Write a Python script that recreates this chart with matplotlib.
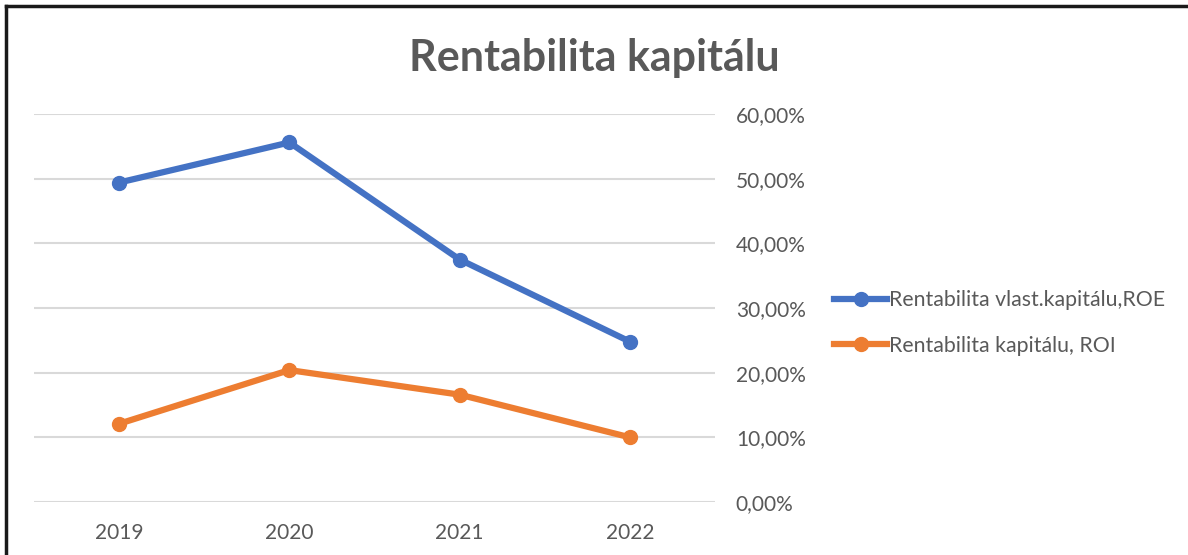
import matplotlib
matplotlib.use("Agg")
import matplotlib.pyplot as plt
from matplotlib.lines import Line2D
from matplotlib.ticker import FuncFormatter

years = ["2019", "2020", "2021", "2022"]
roe = [49.4, 55.6, 37.5, 24.8]
roi = [12.1, 20.4, 16.6, 10.0]
labels = ["Rentabilita vlast.kapitálu,ROE", "Rentabilita kapitálu, ROI"]
colors = ["#4472C4", "#ED7D31"]

plt.rcParams["font.family"] = ["Lato", "DejaVu Sans"]
text_col = "#595959"

fig = plt.figure(figsize=(11.88, 5.55), dpi=100)
ax = fig.add_axes([34 / 1188, 1 - 502 / 555, (715 - 34) / 1188, (502 - 114) / 555])

x = range(len(years))
for vals, lab, c in zip([roe, roi], labels, colors):
	ax.plot(x, vals, color=c, lw=4.5, marker="o", ms=10, label=lab, solid_capstyle="round")

ax.set_xlim(-0.5, len(years) - 0.5)
ax.set_ylim(0, 60)
ax.set_yticks(range(0, 61, 10))
ax.yaxis.set_major_formatter(FuncFormatter(lambda v, p: f"{v:.2f}".replace(".", ",") + "%"))
ax.yaxis.tick_right()
ax.set_xticks(list(x))
ax.set_xticklabels(years)
ax.grid(axis="y", color="#D9D9D9", lw=1.5)
ax.set_axisbelow(True)
for s in ax.spines.values():
	s.set_visible(False)
ax.tick_params(axis="both", length=0, labelsize=15, labelcolor=text_col)
ax.tick_params(axis="y", pad=15)
ax.tick_params(axis="x", pad=15)

fig.text(0.5, 1 - 58 / 555, "Rentabilita kapitálu", ha="center", va="center",
		fontsize=31, fontweight="bold", color=text_col)

handles = [Line2D([0], [0], color=c, lw=4.5, marker="o", ms=10) for c in colors]
leg = fig.legend(handles, labels, loc="center left", bbox_to_anchor=(815 / 1188, 1 - 323 / 555),
		frameon=False, fontsize=15.3, handlelength=2.5, handletextpad=0.1, labelspacing=1.2)
for t in leg.get_texts():
	t.set_color(text_col)

# outer frame (top and left visible)
fig.add_artist(Line2D([5.5 / 1188, 5.5 / 1188], [0, 1 - 6 / 555], color="#1a1a1a", lw=2.5, transform=fig.transFigure))
fig.add_artist(Line2D([5.5 / 1188, 1], [1 - 6 / 555, 1 - 6 / 555], color="#1a1a1a", lw=2.5, transform=fig.transFigure))

fig.savefig("out.png", dpi=100)
